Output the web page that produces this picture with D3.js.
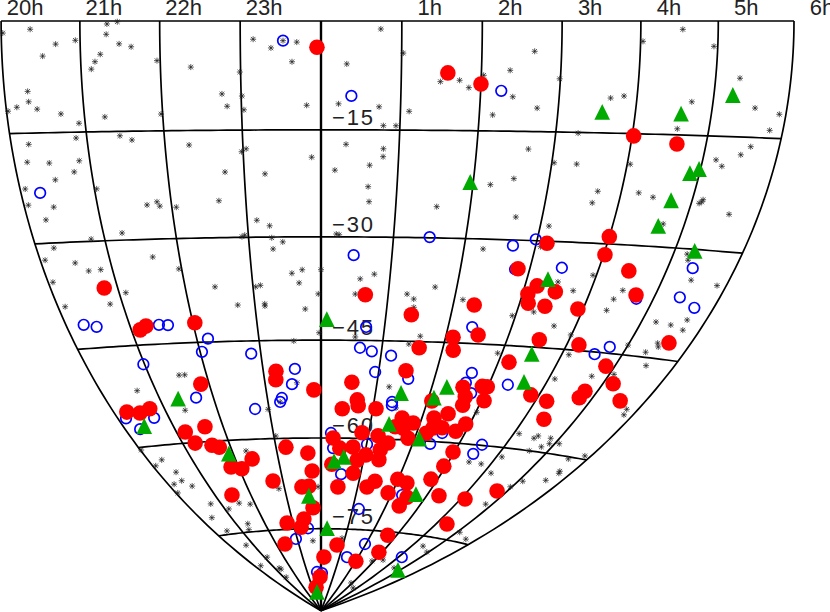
<!DOCTYPE html><html><head><meta charset="utf-8"><script src="https://cdn.jsdelivr.net/npm/d3@7"></script>
<style>html,body{margin:0;background:#fff;overflow:hidden}svg{display:block}text{font-family:"Liberation Sans",Arial,sans-serif;fill:#222}</style></head><body><svg id="c" width="830" height="612"></svg><script>
const hourTicks=[20,21,22,23,0,1,2,3,4,5,6];
const hourLabels=["20h","21h","22h","23h","","1h","2h","3h","4h","5h","6h"];
const decTicks=[0,-15,-30,-45,-60,-75];
const decLabels=["","\u221215","\u221230","\u221245","\u221260","\u221275"];

const starRA=[20.37,20.02,20.69,20.94,20.52,20.30,20.30,
20.14,20.40,20.02,20.70,20.92,21.34,21.47,
21.33,21.49,21.64,21.25,21.18,21.13,21.96,
22.38,22.99,22.76,22.82,23.01,23.03,21.26,
21.98,23.16,23.38,20.86,20.23,20.17,20.46,
20.86,20.77,20.50,20.07,21.03,21.43,21.58,
22.31,22.75,22.98,23.04,23.27,22.64,21.81,
0.74,23.70,23.53,23.64,0.32,1.02,23.82,
0.73,0.22,1.11,0.79,0.95,1.49,1.73,
1.85,2.03,2.36,2.66,2.41,2.73,2.17,
0.32,23.88,0.80,0.80,0.63,0.18,0.62,
2.67,3.03,2.53,2.23,4.54,4.03,4.95,
2.99,5.32,3.83,3.66,4.72,5.57,5.91,
4.58,5.82,3.29,5.61,5.50,5.18,5.28,
3.33,4.04,3.68,4.24,4.45,5.15,20.06,
20.40,20.25,21.67,21.84,22.06,23.13,23.30,
21.26,20.81,22.91,22.95,23.32,20.25,23.33,
20.07,20.49,20.65,20.83,21.62,21.96,20.07,
21.10,22.44,23.04,23.11,20.11,20.81,22.74,
23.15,23.15,21.52,21.62,20.66,0.64,1.55,
2.64,3.12,0.21,0.25,23.47,2.27,3.07,
23.58,23.73,0.00,23.68,0.57,0.77,1.68,
23.96,0.51,1.28,1.39,2.13,1.41,23.76,
2.95,3.26,3.66,23.97,0.55,23.56,1.59,
1.43,2.93,4.11,23.57,1.23,3.47,3.64,
5.11,5.14,5.58,4.70,5.20,5.25,5.43,
5.86,3.95,3.74,4.48,4.40,4.37,5.23,
5.49,5.70,5.73,3.99,5.46,5.51,5.00,
5.36,4.12,5.52,4.72,5.08,5.79,5.83,
4.11,4.48,4.53,4.82,4.78,4.89,5.09,
4.60,5.59,5.87,4.12,5.73,5.70,5.62,
5.11,4.96,21.38,22.98,23.23,23.04,22.31,
20.31,20.07,20.02,20.43,20.15,20.41,20.57,
20.05,22.84,23.92,20.70,21.12,21.54,21.85,
20.38,21.40,21.29,20.47,20.68,23.65,21.14,
20.34,21.27,21.34,21.19,1.44,3.02,3.47,
3.78,4.18,4.82,5.09,5.62,4.45,4.93,
2.89,3.41,4.51,2.88,3.61,0.88];
const starDec=[-1.1,-1.6,-3.1,-2.6,-4.7,-9.4,-10.8,
-11.5,-11.8,-12.0,-12.5,-13.8,-0.4,-0.1,
-1.8,-3.1,-3.5,-4.5,-5.5,-6.5,-5.4,
-6.3,-7.0,-10.0,-11.7,-10.3,-12.2,-13.0,
-12.7,-2.5,-3.7,-15.8,-16.5,-18.9,-19.1,
-18.9,-20.4,-21.4,-22.5,-22.8,-15.6,-16.2,
-17.0,-20.8,-18.0,-17.6,-21.1,-24.8,-24.8,
-1.1,-2.9,-2.7,-5.6,-5.9,-4.4,-11.6,
-11.8,-11.4,-12.4,-14.4,-14.4,-8.3,-8.1,
-9.1,-7.4,-6.7,-4.1,-10.3,-11.8,-12.8,
-17.0,-18.8,-17.6,-18.7,-19.9,-20.6,-22.9,
-17.4,-19.2,-21.5,-22.4,-1.1,-2.7,-3.3,
-7.8,-7.4,-10.0,-10.3,-10.6,-11.2,-11.9,
-14.2,-14.0,-15.1,-16.2,-17.3,-18.1,-18.9,
-19.3,-19.1,-22.9,-22.9,-23.4,-23.4,-24.7,
-25.1,-26.8,-25.2,-25.4,-25.6,-27.6,-28.4,
-29.0,-29.7,-29.9,-29.7,-30.1,-30.7,-31.7,
-32.3,-32.9,-34.1,-34.0,-32.5,-34.3,-35.4,
-37.4,-37.0,-37.1,-36.9,-38.9,-38.9,-39.7,
-39.6,-39.9,-49.7,-49.7,-51.6,-25.0,-25.6,
-26.8,-27.9,-29.6,-29.7,-30.7,-31.4,-30.8,
-35.2,-34.7,-34.7,-36.6,-36.0,-35.3,-37.0,
-38.2,-38.2,-38.1,-38.8,-38.7,-40.0,-40.4,
-40.7,-40.0,-41.8,-43.9,-44.5,-45.1,-44.2,
-45.4,-46.2,-49.3,-51.4,-51.9,-35.6,-24.5,
-23.9,-23.7,-25.1,-26.9,-30.7,-31.5,-34.1,
-34.5,-34.4,-36.7,-36.2,-37.5,-39.1,-40.1,
-40.3,-39.4,-40.8,-42.9,-42.9,-43.4,-43.6,
-44.3,-45.7,-46.1,-48.4,-47.8,-52.3,-53.1,
-57.7,-58.1,-57.7,-57.8,-59.2,-58.6,-58.4,
-60.0,-60.3,-59.5,-61.4,-62.5,-62.2,-63.8,
-64.5,-65.6,-55.0,-55.4,-54.3,-59.6,-61.8,
-62.2,-63.0,-60.4,-64.3,-66.1,-65.7,-66.7,
-67.5,-68.1,-67.9,-69.8,-70.9,-70.1,-70.4,
-72.0,-73.6,-74.6,-74.4,-77.1,-77.1,-79.5,
-80.8,-81.6,-81.8,-83.3,-55.1,-55.1,-62.7,
-62.8,-64.0,-68.7,-73.5,-74.3,-76.6,-77.4,
-80.2,-79.8,-80.8,-84.4,-85.2,-76.6];

const blueRA=[23.53,0.38,2.26,20.26,1.50,0.46,2.68,
2.98,2.79,3.46,2.38,0.71,0.64,0.84,
1.17,0.94,23.55,23.48,1.54,2.62,2.58,
2.75,3.34,1.34,23.27,5.37,5.39,5.70,
4.74,4.72,4.54,20.28,20.47,21.46,21.60,
22.18,22.03,20.98,22.84,21.68,20.16,20.71,
20.30,22.73,23.23,23.51,22.94,23.71,0.21,
0.27,1.01,1.35,0.51,2.31,2.38,2.53,
3.50,3.44,1.20,1.96,1.41,4.16,0.07];
const blueDec=[-2.7,-10.3,-9.5,-23.1,-29.9,-32.6,-30.8,
-29.8,-34.1,-33.6,-42.6,-43.0,-46.1,-46.6,
-47.2,-49.7,-49.3,-51.6,-50.6,-49.3,-50.8,
-52.3,-50.7,-54.2,-53.7,-32.5,-36.5,-37.7,
-37.2,-44.1,-45.3,-41.6,-42.0,-42.2,-42.3,
-44.5,-46.4,-47.8,-46.9,-53.2,-55.5,-55.8,
-57.3,-55.3,-54.3,-74.9,-76.7,-82.7,-59.2,
-61.6,-60.9,-54.7,-65.8,-68.8,-60.4,-58.6,
-59.9,-61.4,-71.5,-77.4,-79.9,-78.9,-82.9];

const redRA=[23.95,1.58,2.00,4.02,4.61,3.15,4.00,
4.02,4.45,2.83,3.18,3.08,3.13,3.40,
3.48,4.71,3.92,0.66,1.39,2.32,2.12,
2.51,2.18,1.61,3.52,4.20,5.64,3.18,
4.85,5.18,4.78,4.76,5.54,3.85,4.21,
4.39,4.74,1.47,0.55,23.87,0.68,2.08,
2.56,2.90,2.99,2.67,3.05,2.69,20.80,
21.25,21.14,22.03,21.85,23.22,23.20,20.25,
20.49,20.72,21.18,21.63,21.27,21.61,21.75,
22.39,21.82,22.06,23.22,23.70,23.78,22.74,
23.48,23.67,21.47,23.75,22.79,23.41,23.26,
22.39,23.43,23.92,0.16,0.41,0.71,1.06,
2.24,2.48,1.61,1.86,2.92,2.48,2.30,
2.79,2.20,1.69,1.52,1.86,0.86,1.21,
1.46,1.33,0.26,0.71,0.42,1.03,1.36,
0.85,0.26,0.81,1.42,1.25,0.46,1.89,
1.99,2.27,2.48,2.40,2.83,2.95,2.97,
3.34,4.12,4.35,2.66,0.73,2.85,2.01];
const redDec=[-3.6,-7.1,-8.6,-15.3,-16.2,-30.3,-29.0,
-31.5,-33.5,-34.0,-36.3,-37.5,-38.8,-39.1,
-37.0,-36.7,-39.2,-38.3,-41.1,-39.4,-44.2,
-43.7,-46.1,-45.9,-43.9,-44.2,-42.7,-47.4,
-46.8,-49.1,-50.6,-51.6,-51.3,-51.9,-52.6,
-55.2,-66.5,-49.4,-51.3,-52.5,-54.0,-53.8,
-51.5,-51.2,-51.2,-52.9,-53.3,-54.2,-36.6,
-42.3,-42.8,-42.1,-51.2,-49.6,-50.9,-54.6,
-54.9,-54.4,-58.3,-57.7,-60.1,-60.6,-61.0,
-63.1,-64.2,-64.6,-61.4,-62.4,-65.3,-66.8,
-67.9,-67.8,-68.7,-71.4,-73.9,-73.3,-74.7,
-77.5,-85.5,-83.6,-80.0,-55.4,-54.9,-55.3,
-56.4,-55.6,-56.6,-57.3,-57.0,-57.8,-57.9,
-58.2,-58.8,-58.2,-58.0,-59.7,-59.1,-59.5,
-60.6,-61.7,-60.0,-61.4,-61.6,-62.6,-63.3,
-63.5,-64.2,-65.6,-66.8,-67.8,-67.9,-68.6,
-66.3,-66.8,-69.1,-70.6,-65.9,-63.7,-61.4,
-68.4,-68.4,-72.6,-75.6,-77.8,-78.6,-80.5];

const greenRA=[1.96,3.57,4.60,5.25,4.87,4.98,4.71,
4.64,5.29,3.31,0.09,3.50,3.60,2.27,
1.47,2.10,21.34,20.42,21.90,23.65,23.42,
0.23,1.38,2.10,0.31,0.53,2.68,4.89];
const greenDec=[-22.1,-12.2,-12.2,-9.6,-20.0,-19.4,-23.7,
-27.2,-30.2,-35.3,-41.9,-46.0,-50.1,-51.6,
-52.8,-53.3,-53.2,-56.9,-62.1,-69.4,-86.4,
-74.9,-57.6,-59.7,-63.7,-63.0,-68.5,-81.0];

// Hammer equal-area plane coordinates, RA in hours, centred on 0h
function plane(ra,dec){
  const l=(ra>12?ra-24:ra)*Math.PI/12, p=dec*Math.PI/180;
  const k=Math.sqrt(1+Math.cos(p)*Math.cos(l/2));
  return [2*Math.SQRT2*Math.cos(p)*Math.sin(l/2)/k, -Math.SQRT2*Math.sin(p)/k];
}
const xS=d3.scaleLinear().domain([0,1]).range([321,630]);
const yS=d3.scaleLinear().domain([0,1]).range([21,438]);
const px=(ra,dec)=>{const q=plane(ra,dec);return [xS(q[0]),yS(q[1])];};
const line=d3.line();
const svg=d3.select("#c");

// graticule
const g=svg.append("g").attr("fill","none").attr("stroke","#000");
hourTicks.forEach(h=>{
  g.append("path").attr("d",line(d3.range(0,90.01,1).map(d=>px(h,-d))))
   .attr("stroke-width",h===0?2.4:1.7);
});
decTicks.forEach(d=>{
  g.append("path").attr("d",line(d3.range(-4,6.001,0.1).map(h=>px(h,d)))).attr("stroke-width",1.7);
});

// labels
svg.append("g").selectAll("text").data(hourTicks.map((h,i)=>[h,hourLabels[i]])).join("text")
  .attr("x",d=>px(d[0],0)[0]+(d[1].length>2?24:28)).attr("y",15)
  .attr("text-anchor","middle").attr("font-size",22).text(d=>d[1]);
svg.append("g").selectAll("text").data(decTicks.map((d,i)=>[d,decLabels[i]])).join("text")
  .attr("x",332).attr("y",d=>px(0,d[0])[1]-5).attr("font-size",22).attr("letter-spacing",1.8).text(d=>d[1]);

// stars
const starPath="M-3,0H3M0,-3V3M-2.3,-2.3L2.3,2.3M-2.3,2.3L2.3,-2.3";
svg.append("g").selectAll("path").data(d3.zip(starRA,starDec)).join("path")
  .attr("transform",d=>{const p=px(d[0],d[1]);return `translate(${p[0]},${p[1]})`;})
  .attr("d",starPath).attr("stroke","#222").attr("stroke-width",0.75).attr("fill","none");
// blue
svg.append("g").selectAll("circle").data(d3.zip(blueRA,blueDec)).join("circle")
  .attr("cx",d=>px(d[0],d[1])[0]).attr("cy",d=>px(d[0],d[1])[1]).attr("r",5.3)
  .attr("fill","none").attr("stroke","#0000ff").attr("stroke-width",1.7);
// red
svg.append("g").selectAll("circle").data(d3.zip(redRA,redDec)).join("circle")
  .attr("cx",d=>px(d[0],d[1])[0]).attr("cy",d=>px(d[0],d[1])[1]).attr("r",7.8).attr("fill","#ff0000");
// green
svg.append("g").selectAll("path").data(d3.zip(greenRA,greenDec)).join("path")
  .attr("transform",d=>{const p=px(d[0],d[1]);return `translate(${p[0]},${p[1]})`;})
  .attr("d","M0,-8L7.8,7.8L-7.8,7.8Z").attr("fill","#00aa00");
</script></body></html>
